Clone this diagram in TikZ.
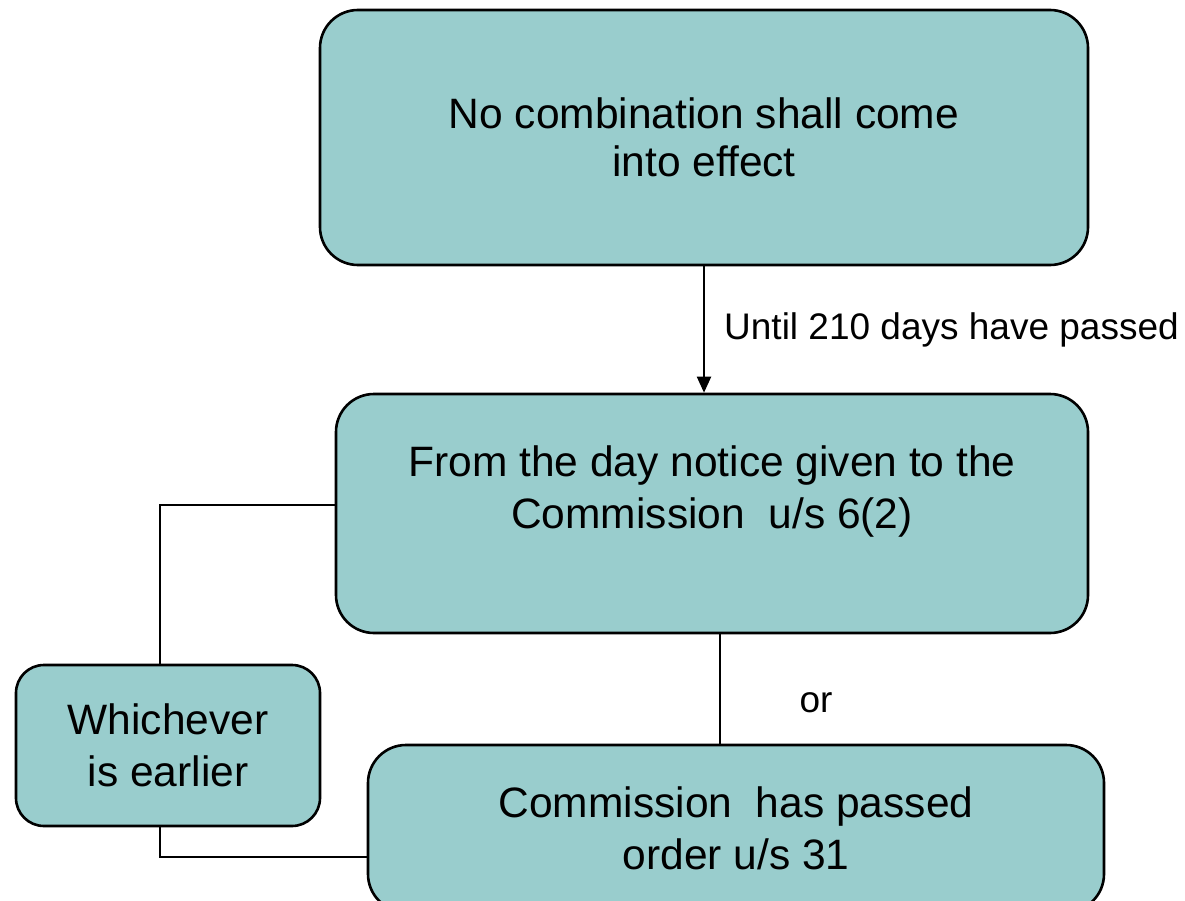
\documentclass[tikz,border=0pt]{standalone}
\usepackage{fontspec}
\setmainfont{Liberation Sans}
\usetikzlibrary{arrows.meta}
\definecolor{boxfill}{RGB}{153,205,205}
\begin{document}
\begin{tikzpicture}[x=1pt,y=-1pt,
  box/.style={draw=black, line width=2.6pt, fill=boxfill, rounded corners=38pt,
    align=center, inner sep=0pt, font=\fontsize{42.5}{52}\selectfont},
  boxtext/.style={align=center, inner sep=0pt, font=\fontsize{42.5}{52}\selectfont},
  link/.style={draw=black, line width=2pt},
  lbl/.style={font=\fontsize{37}{44}\selectfont, inner sep=0pt}]
\useasboundingbox (0,0) rectangle (1185,901);
\clip (0,0) rectangle (1185,901);

% boxes
\node[box, minimum width=768pt, minimum height=255pt,
  font=\fontsize{42.5}{48}\selectfont] (b1) at (704,137.5)
  {No combination shall come\\into effect};
\node[box, minimum width=752pt, minimum height=239pt] (b2) at (712,513.5) {};
\node[boxtext] (b2t) at (712,491) {From the day notice given to the\\Commission\ \ u/s 6(2)};
\node[box, minimum width=736pt, minimum height=167pt] (b3) at (736,828.5)
  {Commission\ \ has passed\\order u/s 31};
\node[box, rounded corners=28pt, minimum width=304pt, minimum height=161pt] (b4)
  at (168,745.5) {Whichever\\is earlier};

% connectors
\draw[link, -{Triangle[width=14pt,length=16pt]}] (b1.south) -- (b1.south |- b2.north);
\node[lbl, anchor=west] (until) at (724,330) {Until 210 days have passed};

\coordinate (ja) at (160,505);
\coordinate (jb) at (160,857);
\coordinate (jc) at (720,690);
\draw[link] (b2.west |- ja) -- (ja) -- (ja |- b4.north);
\draw[link] (jb |- b4.south) -- (jb) -- (jb -| b3.west);
\draw[link] (jc |- b2.south) -- (jc |- b3.north);
\node[lbl] (or) at (816,703) {or};
\end{tikzpicture}
\end{document}
